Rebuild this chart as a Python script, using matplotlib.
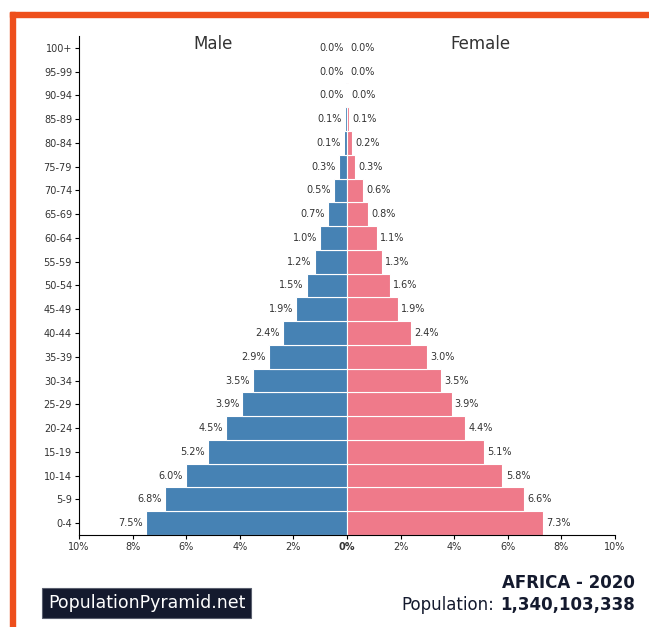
import matplotlib.pyplot as plt
from matplotlib.patches import Rectangle

# age groups, youngest first
ages = ['0-4', '5-9', '10-14', '15-19', '20-24', '25-29', '30-34', '35-39',
        '40-44', '45-49', '50-54', '55-59', '60-64', '65-69', '70-74',
        '75-79', '80-84', '85-89', '90-94', '95-99', '100+']
male = [7.5, 6.8, 6.0, 5.2, 4.5, 3.9, 3.5, 2.9, 2.4, 1.9, 1.5, 1.2, 1.0,
        0.7, 0.5, 0.3, 0.12, 0.06, 0.02, 0.0, 0.0]
female = [7.3, 6.6, 5.8, 5.1, 4.4, 3.9, 3.5, 3.0, 2.4, 1.9, 1.6, 1.3, 1.1,
          0.8, 0.6, 0.3, 0.2, 0.09, 0.04, 0.02, 0.0]
xticks = [-10, -8, -6, -4, -2, 0, 2, 4, 6, 8, 10]

blue = '#4682b4'
pink = '#ef7a8a'
txt = '#333333'
navy = '#141a2e'

fig = plt.figure(figsize=(6.49, 6.27), dpi=100)
ax = fig.add_axes([0.1217, 0.1467, 0.826, 0.796])

y = list(range(len(ages)))
ax.barh(y, [-m for m in male], height=1.0, color=blue, edgecolor='white', linewidth=0.8)
ax.barh(y, female, height=1.0, color=pink, edgecolor='white', linewidth=0.8)

for i in y:
    ax.text(-male[i] - 0.12, i, f'{male[i]:.1f}%', ha='right', va='center',
            fontsize=7, color=txt)
    ax.text(female[i] + 0.12, i, f'{female[i]:.1f}%', ha='left', va='center',
            fontsize=7, color=txt)

ax.set_xlim(-10, 10)
ax.set_ylim(-0.5, len(ages) - 0.5)
ax.set_yticks(y)
ax.set_yticklabels(ages, fontsize=7, color=txt)
ax.set_xticks(xticks)
ax.set_xticklabels([f'{abs(v)}%' for v in xticks], fontsize=7, color=txt)
ax.get_xticklabels()[5].set_fontweight('bold')
ax.tick_params(length=3, width=0.8, pad=2)
for s in ['top', 'right']:
    ax.spines[s].set_visible(False)
for s in ['left', 'bottom']:
    ax.spines[s].set_linewidth(0.8)

fig.text(213 / 649, 1 - 44 / 627, 'Male', ha='center', va='center',
         fontsize=12, color=txt)
fig.text(480 / 649, 1 - 44 / 627, 'Female', ha='center', va='center',
         fontsize=12, color=txt)

# orange frame (top and left edges visible)
fig.patches.append(Rectangle((10 / 649, 0), 5 / 649, 1 - 12 / 627,
                             transform=fig.transFigure, color='#ee4f1c', zorder=0))
fig.patches.append(Rectangle((10 / 649, 1 - 17 / 627), 1, 5 / 627,
                             transform=fig.transFigure, color='#ee4f1c', zorder=0))

fig.text(48 / 649, 1 - 603 / 627, 'PopulationPyramid.net', ha='left', va='center',
         fontsize=12.5, color='white',
         bbox=dict(boxstyle='square,pad=0.35', fc=navy, ec='#5a5f6e', lw=0.8))

fig.text(635 / 649, 1 - 583 / 627, 'AFRICA - 2020', ha='right', va='center',
         fontsize=12, fontweight='bold', color=navy)
t1 = fig.text(635 / 649, 1 - 605 / 627, '1,340,103,338', ha='right', va='center',
              fontsize=12, fontweight='bold', color=navy)
fig.canvas.draw()
bb = t1.get_window_extent()
fig.text((bb.x0 - 6) / 649, 1 - 605 / 627, 'Population:', ha='right', va='center',
         fontsize=12, color=navy)

fig.savefig('out.png', dpi=100)
